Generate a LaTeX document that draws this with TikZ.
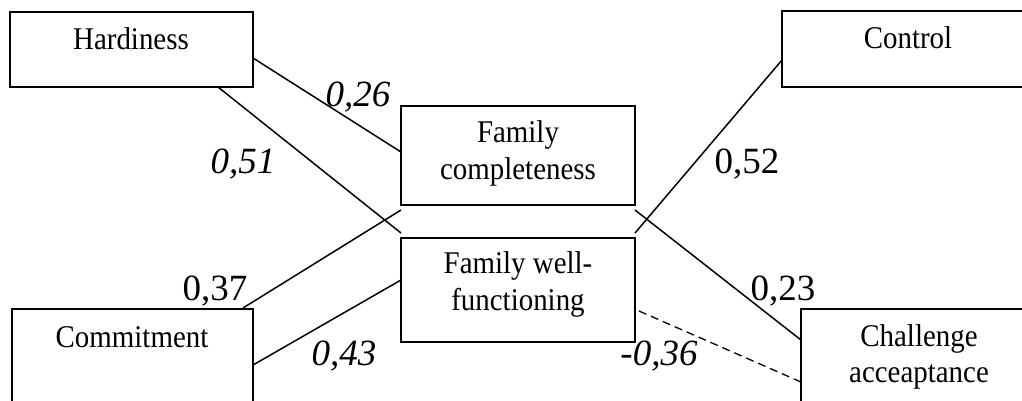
\documentclass[tikz,border=0pt]{standalone}
\usepackage{fontspec}
\setmainfont{Liberation Serif}
\newfontfamily\boxfont[FakeStretch=0.915]{Liberation Serif}
\usetikzlibrary{calc}
\begin{document}
\begin{tikzpicture}[x=1pt,y=-1pt,
  box/.style={draw, line width=1.5pt, rectangle, inner sep=0pt, outer sep=0pt, anchor=north west},
  conn/.style={line width=1.5pt},
  dconn/.style={line width=1.3pt, dash pattern=on 8pt off 5pt},
  boxtext/.style={font=\boxfont\fontsize{31.6}{36.5}\selectfont, inner sep=0pt, align=center},
  coef/.style={font=\fontsize{37}{40}\selectfont, inner sep=0pt, anchor=base},
  coefit/.style={coef, font=\fontsize{37}{40}\selectfont\itshape}]
\useasboundingbox (0,0) rectangle (1022,400);
\clip (0,0) rectangle (1022,400);
% boxes
\node[box, minimum width=243pt, minimum height=75pt] (hard) at (10,12) {};
\node[box, minimum width=252pt, minimum height=76pt] (ctrl) at (782,11) {};
\node[box, minimum width=241pt, minimum height=100pt] (comm) at (12,309) {};
\node[box, minimum width=236pt, minimum height=100pt] (chal) at (801,309) {};
\node[box, minimum width=234pt, minimum height=99pt] (fc) at (401,106) {};
\node[box, minimum width=234pt, minimum height=104pt] (fw) at (401,238) {};
% box texts
\node[boxtext, anchor=base] (thard) at (131,49.5) {Hardiness};
\node[boxtext, anchor=base] (tctrl) at (908,48) {Control};
\node[boxtext, anchor=base] (tcomm) at (132,347) {Commitment};
\node[boxtext] (tchal) at (919,357) {Challenge\\acceaptance};
\node[boxtext] (tfc) at (518,153.5) {Family\\completeness};
\node[boxtext] (tfw) at (518,284.5) {Family well-\\functioning};
% connectors
\draw[conn] ($(hard.north east)+(0,46)$) -- ($(fc.north west)+(0,46)$);
\draw[conn] ($(hard.south west)+(208,0)$) -- ($(fw.north west)+(0,-5)$);
\draw[conn] ($(comm.north west)+(231,-1)$) -- ($(fc.south west)+(0,5)$);
\draw[conn] ($(comm.north east)+(0,56)$) -- ($(fw.north west)+(0,42)$);
\draw[conn] ($(ctrl.north west)+(0,49)$) -- ($(fw.north east)+(0,-5)$);
\draw[conn] ($(fc.south east)+(0,5)$) -- ($(chal.north west)+(0,31)$);
\draw[dconn] ($(fw.north east)+(4,73)$) -- ($(chal.north west)+(0,73)$);
% coefficients
\node[coefit] (c26) at (358,106) {0,26};
\node[coefit] (c51) at (243,173) {0,51};
\node[coef] (c37) at (215,300) {0,37};
\node[coefit] (c43) at (344,365) {0,43};
\node[coef] (c52) at (747,173) {0,52};
\node[coef] (c23) at (783,300) {0,23};
\node[coefit] (c36) at (659,365) {-0,36};
\end{tikzpicture}
\end{document}
